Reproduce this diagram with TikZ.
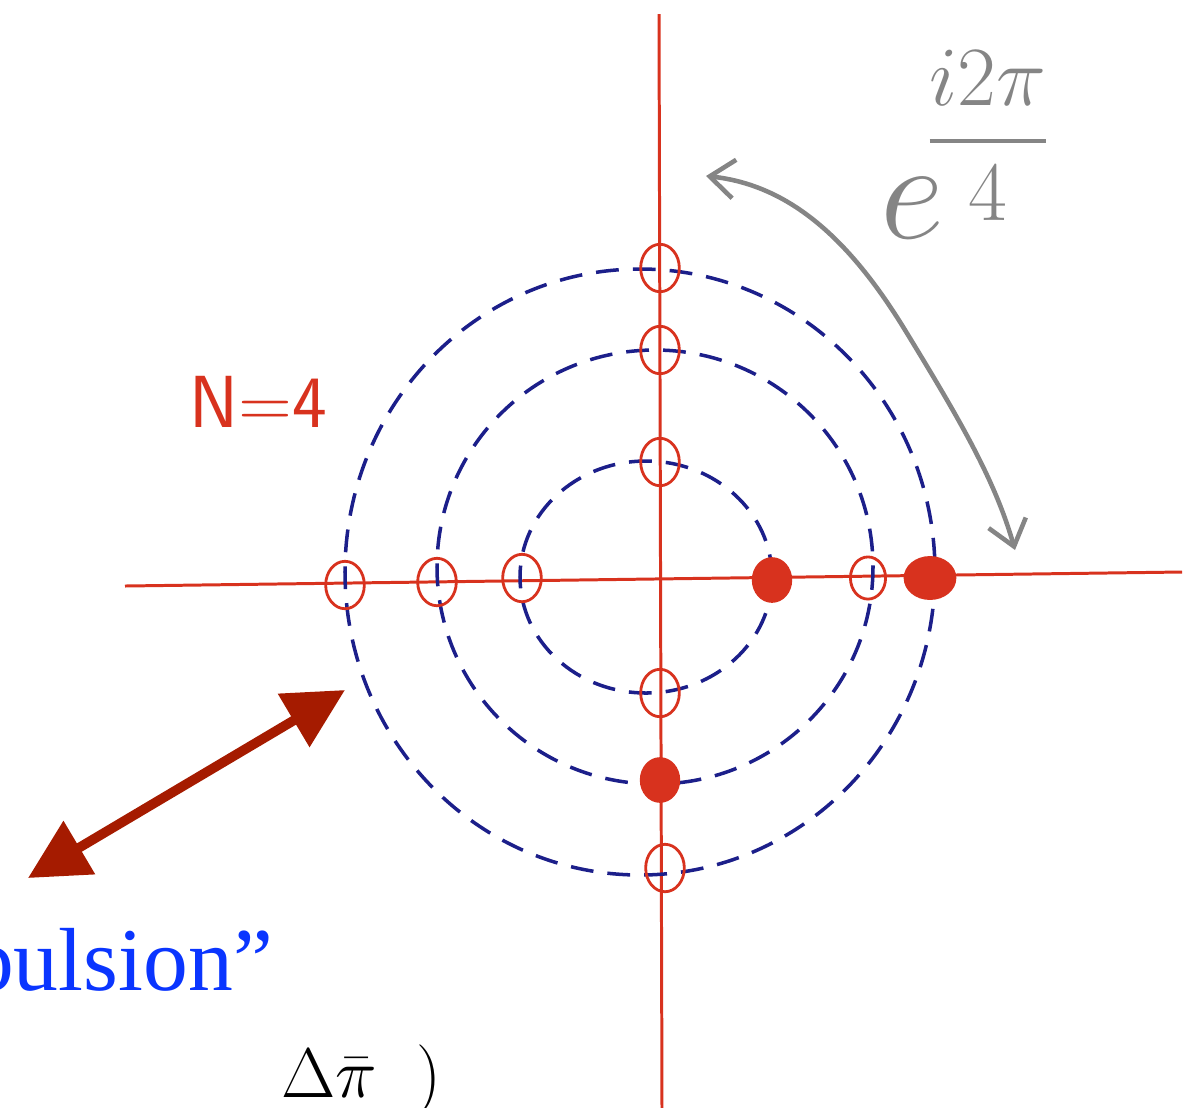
\RequirePackage{fix-cm}
\documentclass[tikz,border=0pt]{standalone}
\usepackage{amsmath,amssymb}
\usepackage{fontspec}
\usepackage{tikz}
\usetikzlibrary{arrows.meta,positioning,calc,shapes.geometric}
\newfontfamily\slidefont{Liberation Serif}
\definecolor{axisred}{HTML}{D8321E}
\definecolor{orbitblue}{HTML}{1C1F8A}
\definecolor{phasegrey}{HTML}{858585}
\definecolor{repred}{HTML}{A51B00}
\definecolor{labelblue}{HTML}{0A35FF}

\begin{document}
\begin{tikzpicture}[x=0.02cm, y=-0.02cm,
  axis/.style={draw=axisred, line width=1.7pt},
  orbit/.style={draw=orbitblue, line width=2pt, dash pattern=on 13pt off 8pt},
  ring/.style={ellipse, draw=axisred, line width=1.6pt, minimum width=22pt, minimum height=27pt, inner sep=0pt},
  dot/.style={ellipse, fill=axisred, minimum width=23pt, minimum height=26pt, inner sep=0pt},
  rot/.style={{Straight Barb[length=14pt,width=22pt]}-{Straight Barb[length=14pt,width=22pt]}, draw=phasegrey, line width=2.6pt},
  rep/.style={{Triangle[length=34pt,width=34pt]}-{Triangle[length=34pt,width=34pt]}, draw=repred, fill=repred, line width=5.5pt}]
\useasboundingbox (0,0) rectangle (1190,1107);
\clip (0,0) rectangle (1190,1107);
% axes
\coordinate (xl) at (125,586);
\coordinate (xr) at (1182,572);
\coordinate (yt) at (659,14);
\coordinate (yb) at (662,1110);
\draw[axis] (xl) -- (xr);
\draw[axis] (yt) -- (yb);
% orbits
\draw[orbit] (640,572) ellipse [x radius=295, y radius=303];
\draw[orbit] (655,567) ellipse [x radius=218, y radius=217];
\draw[orbit] (646,577) ellipse [x radius=126, y radius=116];
% roots on the axes
\node[ring] (top3) at (660,268) {};
\node[ring] (top2) at (660,350) {};
\node[ring] (top1) at (660,462) {};
\node[ring] (bot1) at (660,693) {};
\node[dot] (bot2) at (660,780) {};
\node[ring] (bot3) at (665,868) {};
\node[ring] (left3) at (345,585) {};
\node[ring] (left2) at (437,582) {};
\node[ring] (left1) at (522,578) {};
\node[dot] (right1) at (772,580) {};
\node[ring, minimum width=20pt, minimum height=24pt] (right2) at (868,578) {};
\node[dot, minimum width=30pt, minimum height=25pt] (right3) at (930,578) {};
% labels
\node[text=axisred, font=\sffamily\fontsize{42}{42}\selectfont] (nlabel) at (258,402) {N=4};
\node[text=phasegrey, font=\fontsize{80}{80}\selectfont] (ebase) at (912,208) {$e$};
\node[text=phasegrey, font=\fontsize{48}{48}\selectfont] (expo) at (988,135) {$\dfrac{i2\pi}{4}$};
\node[text=labelblue, font=\slidefont\fontsize{51}{51}\selectfont, anchor=base east] (repword) at (279,990) {pulsion”};
\node[font=\fontsize{40}{40}\selectfont, anchor=base west] (delta) at (275,1097) {$\Delta\bar{\pi}\;\;)$};
% rotation and repulsion arrows
\coordinate (rotA) at (1015,550);
\coordinate (rotB) at (706,176);
\draw[rot] (rotB) .. controls (790,185) and (850,240) .. (905,330) .. controls (960,420) and (995,480) .. (rotA);
\coordinate (repL) at (28,878);
\coordinate (repR) at (345,690);
\draw[rep] (repL) -- (repR);
\end{tikzpicture}
\end{document}
